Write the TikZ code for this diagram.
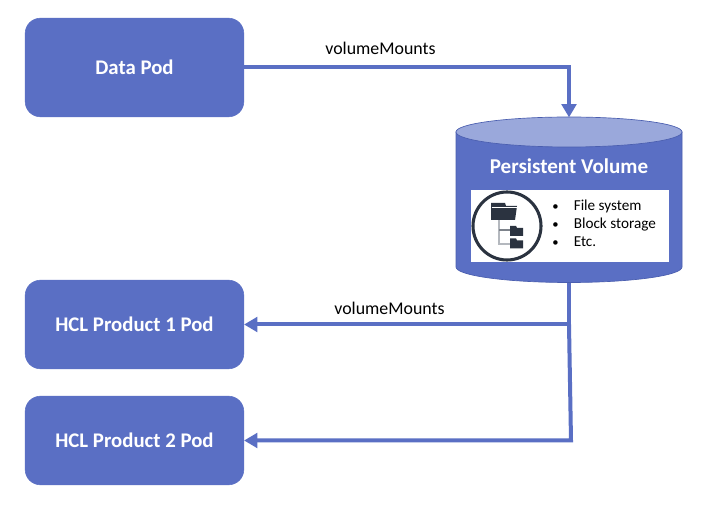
\documentclass[tikz,border=0pt]{standalone}
\usepackage{fontspec}
\setmainfont{Carlito}
\usetikzlibrary{arrows.meta}
\definecolor{podblue}{HTML}{5A6FC4}
\definecolor{podedge}{HTML}{4A5EAF}
\definecolor{toplid}{HTML}{9AA8DB}
\definecolor{icondark}{HTML}{2B3340}
\definecolor{icongray}{HTML}{B4B8BE}
\tikzset{
  pod/.style={draw=podblue,fill=podblue,rounded corners=11.5pt,minimum width=164pt,inner sep=0pt,text=white,font=\bfseries\fontsize{15.6}{18}\selectfont},
  link/.style={draw=podblue,line width=3pt,-{Triangle[length=10pt,width=11pt]}},
  lab/.style={inner sep=0pt,font=\fontsize{13.4}{16}\selectfont},
  item/.style={inner sep=0pt,anchor=base west,font=\fontsize{11.4}{13}\selectfont},
  dot/.style={inner sep=0pt,anchor=base,font=\fontsize{9.5}{13}\selectfont},
}
\begin{document}
\begin{tikzpicture}[x=0.75pt,y=-0.75pt]
\useasboundingbox (0,0) rectangle (703,505);
\fill[white] (0,0) rectangle (703,505);
% pods
\node[pod,minimum height=74pt] (data) at (134.5,67.5) {\raisebox{-0.4pt}{Data Pod}};
\node[pod,minimum height=66.5pt] (p1) at (134.5,324.5) {\raisebox{-0.4pt}{HCL Product 1 Pod}};
\node[pod,minimum height=66.5pt] (p2) at (134.5,440.5) {\raisebox{-0.4pt}{HCL Product 2 Pod}};
% cylinder
\draw[podedge,fill=podblue,line width=0.5pt] (456,132) -- (456,267) arc[start angle=180,end angle=0,x radius=113,y radius=15.5] -- (682,132) -- cycle;
\draw[podedge,fill=toplid,line width=0.5pt] (569,132) ellipse[x radius=113,y radius=15];
\node[minimum width=169.5pt,minimum height=123.5pt,inner sep=0pt] (pv) at (569,200) {};
\node[inner sep=0pt,text=white,font=\bfseries\fontsize{15.8}{18}\selectfont] (pvt) at (569,166) {Persistent Volume};
\node[fill=white,minimum width=148.5pt,minimum height=54pt,inner sep=0pt] (panel) at (570,226) {};
% icon
\node[draw=icondark,line width=2.3pt,circle,minimum size=51pt,inner sep=0pt] (ring) at (507,226) {};
\draw[icongray,line width=0.9pt] (499,220) -- (499,244) -- (511,244);
\draw[icongray!60!icondark,line width=0.9pt] (499,230) -- (511,230);
\fill[icondark] (491,220) -- (491,203) -- (505,203) -- (506,206) -- (517,206) -- (515,220) -- cycle;
\draw[white,line width=0.4pt] (491.5,207.5) -- (517,207.5);
\fill[icondark] (510,236) -- (510,226) -- (516,226) -- (517,228) -- (523,228) -- (523,236) -- cycle;
\fill[icondark] (510,248.5) -- (510,238.5) -- (516,238.5) -- (517,240.5) -- (523,240.5) -- (523,248.5) -- cycle;
% list
\node[dot] (b1) at (555.5,211) {•};
\node[dot] (b2) at (555.5,229) {•};
\node[dot] (b3) at (555.5,247) {•};
\node[item] (i1) at (573.5,211) {File system};
\node[item] (i2) at (573.5,229) {Block storage};
\node[item] (i3) at (573.5,247) {Etc.};
% connectors
\coordinate (bend) at (data.east -| pv.north);
\draw[link] (data.east) -- (bend) -- (pv.north);
\coordinate (split) at (p1.east -| pv.south);
\coordinate (corner) at ([xshift=1.5pt]p2.east -| pv.south);
\draw[link] (pv.south) -- (split) -- (p1.east);
\draw[link] (split) -- (corner) -- (p2.east);
% labels
\node[lab] (l1) at (380.5,48.5) {volumeMounts};
\node[lab] (l2) at (389.5,308.5) {volumeMounts};
\end{tikzpicture}
\end{document}
